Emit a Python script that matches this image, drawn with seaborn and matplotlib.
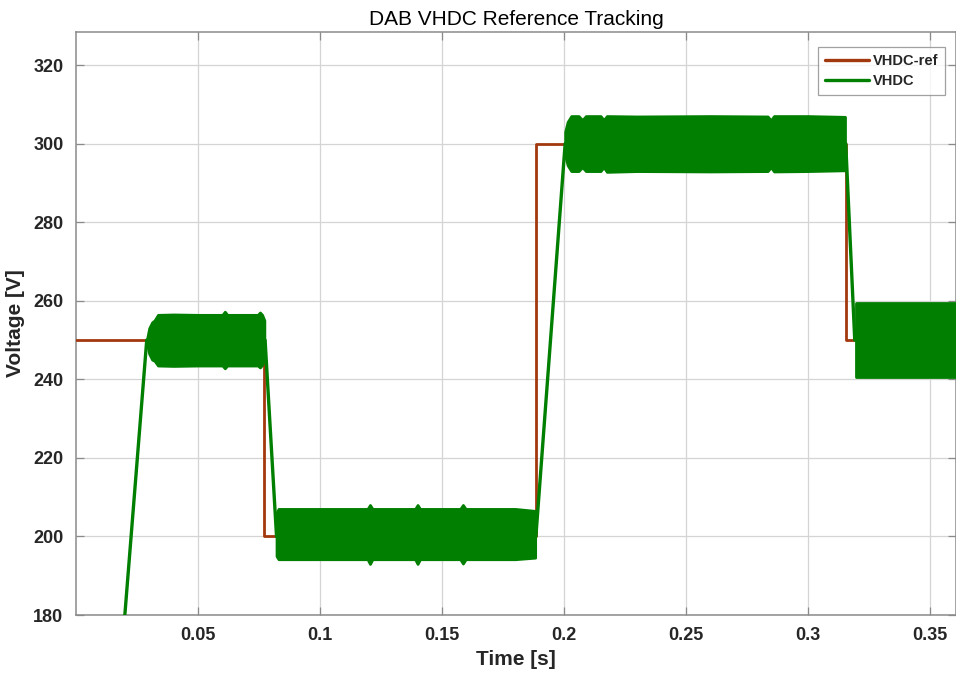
import numpy as np
import pandas as pd
import matplotlib
matplotlib.use("Agg")
import matplotlib.pyplot as plt
import seaborn as sns

# Reference voltage steps (time in s, voltage in V)
ref_t = [0.0, 0.0770, 0.0770, 0.1885, 0.1885, 0.3158, 0.3158, 0.3607]
ref_v = [250, 250, 200, 200, 300, 300, 250, 250]

# Average trajectory of the measured DC-link voltage
vhdc_t = [0.0, 0.0290, 0.0775, 0.0822, 0.1885, 0.2005, 0.3155, 0.3192, 0.3607]
vhdc_v = [24, 250, 250, 200, 200, 300, 300, 250, 250]

# Ripple envelopes of the measured voltage in each settled interval
band1_t = [0.0292, 0.0300, 0.0312, 0.0322, 0.0336, 0.0400, 0.0500, 0.0600, 0.0610, 0.0620, 0.0700, 0.0745, 0.0754, 0.0763, 0.0772]
band1_hi = [250.5, 253.0, 254.5, 255.0, 256.4, 256.5, 256.4, 256.4, 257.2, 256.4, 256.4, 256.4, 257.0, 256.4, 255.0]
band1_lo = [249.0, 246.5, 245.0, 244.7, 243.5, 243.4, 243.5, 243.5, 242.8, 243.5, 243.5, 243.5, 243.0, 243.7, 245.0]

band2_t = [0.0822, 0.0830, 0.1000, 0.1195, 0.1205, 0.1215, 0.1390, 0.1400, 0.1410, 0.1575, 0.1586, 0.1597, 0.1800, 0.1882]
band2_hi = [206.0, 207.0, 207.0, 207.0, 208.0, 207.0, 207.0, 208.0, 207.0, 207.0, 208.0, 207.0, 207.0, 206.5]
band2_lo = [195.0, 194.2, 194.2, 194.2, 193.0, 194.2, 194.2, 193.0, 194.2, 194.2, 193.1, 194.2, 194.2, 194.6]

band3_t = [0.2005, 0.2015, 0.2030, 0.2060, 0.2075, 0.2090, 0.2150, 0.2163, 0.2176, 0.2300, 0.2600, 0.2835, 0.2848, 0.2861, 0.3000, 0.3152]
band3_hi = [303.0, 305.5, 307.0, 307.0, 306.0, 307.0, 307.0, 306.0, 307.0, 306.9, 307.0, 306.9, 305.9, 307.0, 307.0, 306.8]
band3_lo = [297.0, 294.5, 293.0, 293.0, 294.0, 293.0, 293.0, 294.0, 292.8, 293.0, 292.9, 293.0, 294.0, 292.9, 293.0, 293.2]

band4_t = [0.3197, 0.3607]
band4_hi = [259.4, 259.4]
band4_lo = [240.6, 240.6]

x_ticks = [0.05, 0.1, 0.15, 0.2, 0.25, 0.3, 0.35]
x_tick_labels = ["0.05", "0.1", "0.15", "0.2", "0.25", "0.3", "0.35"]
y_ticks = [180, 200, 220, 240, 260, 280, 300, 320]

REF_COLOR = "#A2380D"
MEAS_COLOR = "#007F00"
TEXT_COLOR = "#262626"

sns.set_theme(style="white")
plt.rcParams["font.family"] = ["Liberation Sans", "DejaVu Sans"]

fig = plt.figure(figsize=(9.56, 6.81), dpi=100)
ax = fig.add_axes([76 / 956, 66 / 681, 880 / 956, 583 / 681])

ref_df = pd.DataFrame({"t": ref_t, "v": ref_v})
meas_df = pd.DataFrame({"t": vhdc_t, "v": vhdc_v})

sns.lineplot(data=ref_df, x="t", y="v", ax=ax, color=REF_COLOR, linewidth=2.0,
             sort=False, estimator=None, label="VHDC-ref", zorder=3)
sns.lineplot(data=meas_df, x="t", y="v", ax=ax, color=MEAS_COLOR, linewidth=2.4,
             sort=False, estimator=None, label="VHDC", zorder=4)

for bt, bh, bl in [(band1_t, band1_hi, band1_lo), (band2_t, band2_hi, band2_lo),
                   (band3_t, band3_hi, band3_lo), (band4_t, band4_hi, band4_lo)]:
    poly = ax.fill_between(bt, bl, bh, color=MEAS_COLOR, linewidth=2.0,
                           edgecolor=MEAS_COLOR, zorder=4)
    poly.set_joinstyle("round")

ax.set_xlim(0, 0.3607)
ax.set_ylim(180, 328.4)
ax.set_xticks(x_ticks)
ax.set_xticklabels(x_tick_labels)
ax.set_yticks(y_ticks)

ax.grid(True, color="#d4d4d4", linewidth=0.9)
ax.set_axisbelow(True)
for s in ax.spines.values():
    s.set_color("#8a8a8a")
    s.set_linewidth(1.1)

ax.tick_params(direction="in", length=6, width=0.9, color="#8a8a8a",
               top=True, right=True, bottom=True, left=True,
               labelsize=13, labelcolor=TEXT_COLOR, pad=9)
for lab in ax.get_xticklabels() + ax.get_yticklabels():
    lab.set_fontweight("bold")

ax.set_xlabel("Time [s]", fontsize=15, fontweight="bold", color=TEXT_COLOR, labelpad=4)
ax.set_ylabel("Voltage [V]", fontsize=15, fontweight="bold", color=TEXT_COLOR, labelpad=6)
ax.set_title("DAB VHDC Reference Tracking", fontsize=15, color="black", pad=5)

leg = ax.legend(loc="upper right", bbox_to_anchor=(0.9875, 0.974), borderaxespad=0,
                frameon=True, fancybox=False, prop={"weight": "bold", "size": 10.5},
                handlelength=3.0, handletextpad=0.3, borderpad=0.45,
                labelspacing=0.45)
leg.get_frame().set_edgecolor("#8a8a8a")
leg.get_frame().set_linewidth(0.9)
for line in leg.get_lines():
    line.set_linewidth(2.4)
for txt in leg.get_texts():
    txt.set_color(TEXT_COLOR)

fig.savefig("out.png", dpi=100)
